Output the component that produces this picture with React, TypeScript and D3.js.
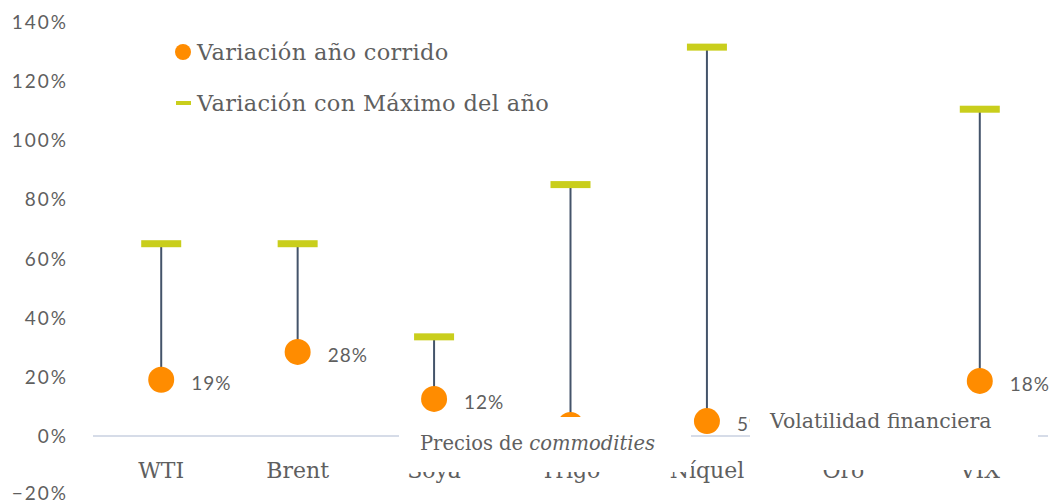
import React from "react";
import * as d3 from "d3";

const categories = ["WTI", "Brent", "Soya", "Trigo", "Níquel", "Oro", "VIX"];
const ytdValues: (number | null)[] = [0.19, 0.284, 0.125, 0.037, 0.05, null, 0.186];
const maxValues: (number | null)[] = [0.65, 0.65, 0.335, 0.85, 1.315, null, 1.105];
const valueLabels = ["19%", "28%", "12%", "", "5%", "", "18%"];
const yTicks = [-0.2, 0, 0.2, 0.4, 0.6, 0.8, 1.0, 1.2, 1.4];
const legendItems = ["Variación año corrido", "Variación con Máximo del año"];
const groupNotes = ["Precios de ", "commodities", "Volatilidad financiera"];

const W = 1051;
const H = 503;
const ORANGE = "#FF8C00";
const YELLOW = "#C9CE1C";
const STEM = "#44546A";
const TEXT = "#5F5F5F";
const SERIF = "'DejaVu Serif', serif";
const SANS = "Lato, 'Open Sans', sans-serif";

export default function App() {
  const x = d3.scaleBand<string>().domain(categories).range([93, 1048]);
  const y = d3.scaleLinear().domain([-0.2, 1.4]).range([495, 22]);
  const cx = (c: string) => (x(c) as number) + x.bandwidth() / 2;
  const pct = d3.format(".0%");

  return (
    <div style={{ position: "absolute", left: 0, top: 0 }}>
      <svg width={W} height={H} style={{ display: "block", background: "#fff" }}>
        {/* y tick labels */}
        {yTicks.map((t) => (
          <text
            key={t}
            x={68}
            y={Math.min(y(t) + 7, 500)}
            textAnchor="end"
            fontFamily={SANS}
            fontSize={19}
            letterSpacing={2}
            fill={TEXT}
          >
            {pct(t)}
          </text>
        ))}
        {/* zero line */}
        <line x1={93} x2={1048} y1={y(0)} y2={y(0)} stroke="#D6DCE8" strokeWidth={2} />
        {/* category labels */}
        {categories.map((c) => (
          <text
            key={c}
            x={cx(c)}
            y={478}
            textAnchor="middle"
            fontFamily={SERIF}
            fontSize={22}
            fill={TEXT}
          >
            {c}
          </text>
        ))}
        {/* stems */}
        {categories.map((c, i) =>
          maxValues[i] != null && ytdValues[i] != null ? (
            <line
              key={"s" + c}
              x1={cx(c)}
              x2={cx(c)}
              y1={y(maxValues[i] as number)}
              y2={y(ytdValues[i] as number)}
              stroke={STEM}
              strokeWidth={2}
            />
          ) : null
        )}
        {/* max markers */}
        {categories.map((c, i) =>
          maxValues[i] != null ? (
            <rect
              key={"m" + c}
              x={cx(c) - 20}
              y={y(maxValues[i] as number) - 3.5}
              width={40}
              height={7}
              fill={YELLOW}
            />
          ) : null
        )}
        {/* ytd dots */}
        {categories.map((c, i) =>
          ytdValues[i] != null ? (
            <circle key={"d" + c} cx={cx(c)} cy={y(ytdValues[i] as number)} r={13} fill={ORANGE} />
          ) : null
        )}
        {/* value labels */}
        {categories.map((c, i) =>
          ytdValues[i] != null && valueLabels[i] ? (
            <text
              key={"l" + c}
              x={cx(c) + 30}
              y={y(ytdValues[i] as number) + 10}
              fontFamily={SANS}
              fontSize={19}
              letterSpacing={1}
              fill={TEXT}
            >
              {valueLabels[i]}
            </text>
          ) : null
        )}
        {/* annotation boxes */}
        <rect x={399} y={417} width={292} height={55} fill="#fff" />
        <rect x={750} y={396} width={288} height={74} fill="#fff" />
        <text x={420} y={450} fontFamily={SERIF} fontSize={19.5} fill={TEXT}>
          {groupNotes[0]}
          <tspan fontStyle="italic">{groupNotes[1]}</tspan>
        </text>
        <text x={770} y={428} fontFamily={SERIF} fontSize={20.5} fill={TEXT}>
          {groupNotes[2]}
        </text>
        {/* legend */}
        <circle cx={183} cy={52} r={8} fill={ORANGE} />
        <text x={197} y={60} fontFamily={SERIF} fontSize={22.5} letterSpacing={0.3} fill={TEXT}>
          {legendItems[0]}
        </text>
        <rect x={176} y={101} width={15} height={4} fill={YELLOW} />
        <text x={197} y={111} fontFamily={SERIF} fontSize={22.5} letterSpacing={0.3} fill={TEXT}>
          {legendItems[1]}
        </text>
      </svg>
    </div>
  );
}
